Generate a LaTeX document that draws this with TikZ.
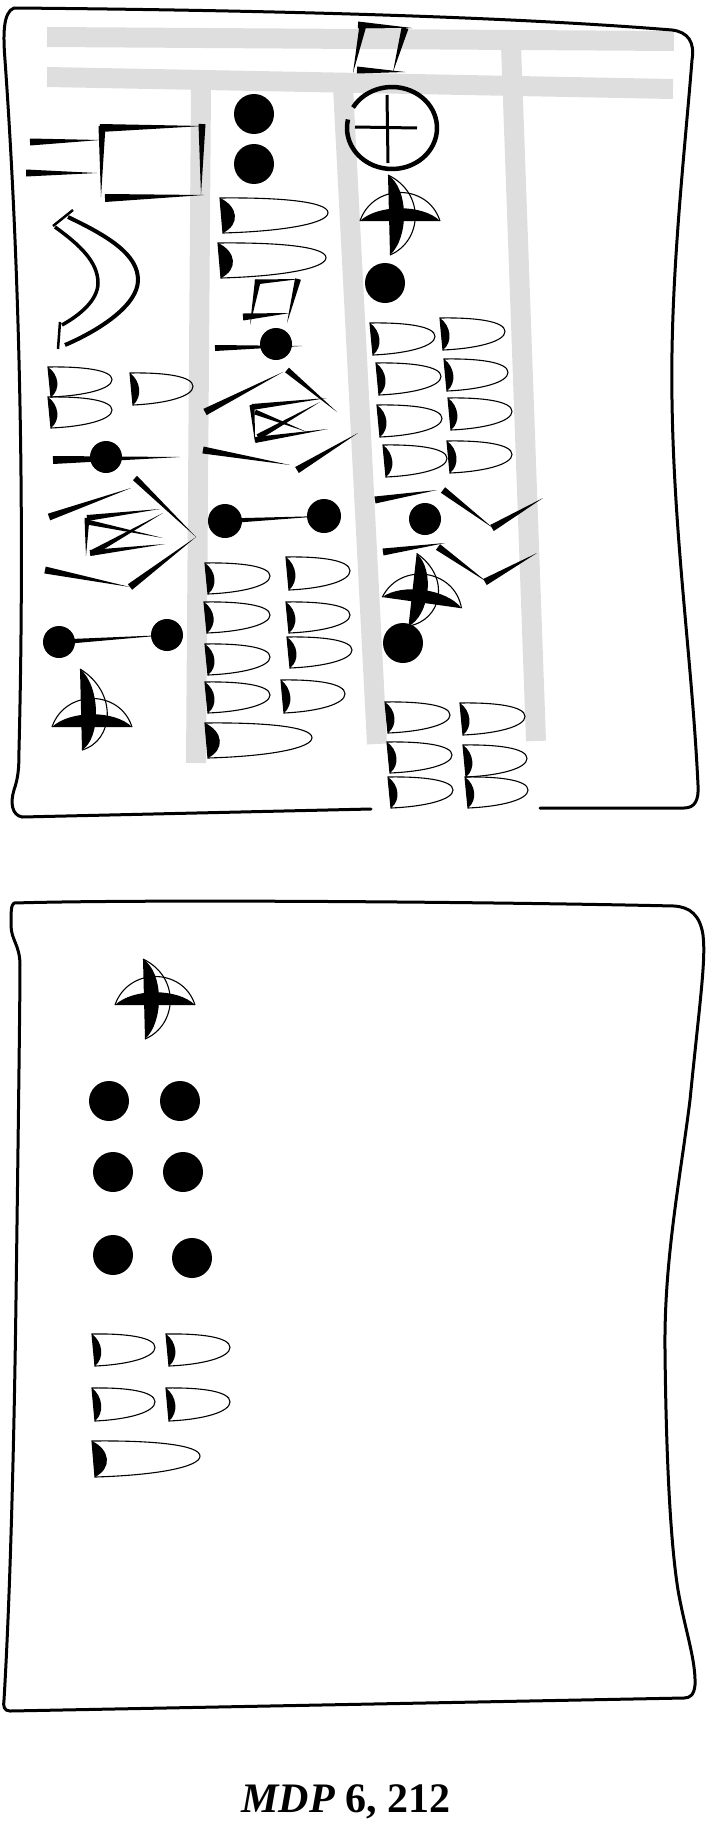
\documentclass[tikz,border=0pt]{standalone}
\usepackage{fontspec}
\setmainfont{Liberation Serif}
\usetikzlibrary{calc}
\definecolor{rulegrey}{gray}{0.87}

\newcommand{\numwedge}[4]{%
  \draw[thinline] (#1,#2) .. controls ({#1+0.55*#3},{#2-0.02*#4}) and ({#1+#3},{#2+0.1*#4}) .. ({#1+#3},{#2+0.42*#4})
        .. controls ({#1+#3},{#2+0.72*#4}) and ({#1+0.6*#3},{#2+0.95*#4}) .. ({#1+3},{#2+#4}) -- cycle;
  \fill (#1,#2) .. controls ({#1+0.17*#3},{#2+0.25*#4}) and ({#1+0.17*#3+2},{#2+0.75*#4}) .. ({#1+3},{#2+#4}) -- cycle;}
\newcommand{\tstroke}[3]{\fill ($#1!#3pt!90:#2$) -- ($#1!#3pt!-90:#2$) -- #2 -- cycle;}
\newcommand{\crosssign}[4]{%
  \fill (#1,{#2-#3}) .. controls ({#1+21},{#2-0.7*#3}) and ({#1+21},{#2+0.5*#4}) .. ({#1+2},{#2+#4}) -- cycle;
  \fill ({#1-28},#2) .. controls ({#1-10},{#2-17}) and ({#1+35},{#2-17}) .. ({#1+52},#2) -- cycle;
  \draw[thinline] ({#1-28},#2) .. controls ({#1-15},{#2-38}) and ({#1+40},{#2-38}) .. ({#1+52},#2);
  \draw[thinline] (#1,{#2-#3}) .. controls ({#1+38},{#2-0.6*#3}) and ({#1+34},{#2+0.6*#4}) .. ({#1+2},{#2+#4});}

\begin{document}
\begin{tikzpicture}[x=1pt,y=-1pt,
                    ruling/.style={rulegrey,line width=20pt},
                    tablet/.style={line width=3pt,line cap=round,line join=round},
                    thinline/.style={line width=1.1pt}]
  \useasboundingbox (0,0) rectangle (705,1828);

  \draw[ruling] (47,37) -- (674,41);
  \draw[ruling] (47,77) -- (673,89);
  \draw[ruling] (201,87) -- (196,763);
  \draw[ruling] (343,87) -- (377,744);
  \draw[ruling] (511,45) -- (536,741);

  \draw[tablet] (371,809) -- (22,817) .. controls (12,815) and (10,803) .. (14,790)
        .. controls (18,778) and (19,770) .. (19,750) .. controls (24,550) and (22,300) .. (5,60)
        .. controls (3,35) and (3,12) .. (14,8) .. controls (250,10) and (500,16) .. (672,30)
        .. controls (688,32) and (695,42) .. (692,60) .. controls (684,160) and (670,280) .. (672,400)
        .. controls (674,540) and (692,660) .. (698,785) .. controls (699,800) and (695,808) .. (684,808)
        -- (540,808);

  \tstroke{(30,142)}{(100,140)}{3.5}
  \tstroke{(26,173)}{(97,173)}{3.5}
  \tstroke{(102,126)}{(101,197)}{3.5}
  \tstroke{(100,128)}{(203,126)}{4}
  \tstroke{(202,124)}{(201,195)}{3.5}
  \tstroke{(105,198)}{(204,195)}{4}

  \draw[line width=4pt] (68,217) .. controls (110,237) and (138,255) .. (138,280) .. controls (138,305) and (100,330) .. (65,345);
  \draw[line width=3.5pt] (55,227) .. controls (80,245) and (98,262) .. (98,283) .. controls (98,300) and (80,315) .. (62,325);
  \draw[line width=2.5pt] (73,210) -- (53,226);
  \draw[line width=2.5pt] (60,322) -- (58,349);

  \numwedge{48}{367}{64}{30}
  \numwedge{48}{397}{64}{31}
  \numwedge{130}{373}{63}{32}

  \tstroke{(53,460)}{(180,457)}{4}
  \fill (106,457) circle [radius=16pt];

  \tstroke{(49,517)}{(131,488)}{3.5}
  \tstroke{(135,478)}{(196,537)}{3}
  \tstroke{(45,570)}{(130,587)}{3.5}
  \tstroke{(130,587)}{(196,537)}{3.5}
  \tstroke{(87,518)}{(86,556)}{2.5}
  \tstroke{(87,518)}{(160,509)}{3}
  \tstroke{(90,553)}{(165,544)}{3}
  \tstroke{(87,522)}{(163,538)}{2.5}
  \tstroke{(92,553)}{(163,513)}{3}

  \fill (59,642) circle [radius=16pt];
  \fill (167,635) circle [radius=16pt];
  \tstroke{(59,642)}{(167,635)}{2.5}

  \crosssign{80}{727}{58}{23}

  \fill (254,114) circle [radius=20pt];
  \fill (254,164) circle [radius=20pt];
  \numwedge{220}{198}{108}{35}
  \numwedge{218}{243}{108}{35}

  \tstroke{(258,280)}{(250,325)}{3}
  \tstroke{(255,282)}{(300,279)}{2.5}
  \tstroke{(298,279)}{(287,323)}{3}
  \tstroke{(243,317)}{(290,313)}{3.5}

  \tstroke{(215,348)}{(302,346)}{3}
  \fill (276,344) circle [radius=16pt];

  \tstroke{(205,412)}{(283,372)}{3.5}
  \tstroke{(287,370)}{(337,412)}{3}
  \tstroke{(252,405)}{(255,442)}{2.5}
  \tstroke{(252,407)}{(327,398)}{3}
  \tstroke{(255,440)}{(328,429)}{3}
  \tstroke{(255,412)}{(307,432)}{2.5}
  \tstroke{(258,437)}{(320,402)}{3}
  \tstroke{(203,450)}{(290,465)}{3.5}
  \tstroke{(297,470)}{(358,433)}{3.5}

  \fill (225,521) circle [radius=17pt];
  \fill (324,516) circle [radius=17pt];
  \tstroke{(225,521)}{(324,516)}{2.5}

  \numwedge{205}{563}{65}{31}
  \numwedge{204}{602}{66}{31}
  \numwedge{205}{644}{65}{31}
  \numwedge{205}{682}{65}{31}
  \numwedge{286}{557}{64}{33}
  \numwedge{286}{602}{64}{31}
  \numwedge{287}{637}{65}{31}
  \numwedge{281}{680}{64}{33}
  \numwedge{205}{723}{107}{35}

  \tstroke{(363,25)}{(353,73)}{3.5}
  \tstroke{(358,25)}{(412,28)}{3.5}
  \tstroke{(405,28)}{(393,72)}{3.5}
  \tstroke{(357,70)}{(405,72)}{3.5}

  \draw[line width=4.5pt] ($(392,128)+(150:45pt and 41pt)$) arc[start angle=150, end angle=-192, x radius=45pt, y radius=41pt];
  \draw[line width=3pt] (387,95) -- (388,163);
  \draw[line width=3pt] (355,127) -- (417,128);

  \crosssign{388}{221}{46}{34}
  \fill (385,283) circle [radius=20pt];

  \numwedge{370}{323}{65}{32}
  \numwedge{440}{318}{65}{32}
  \numwedge{376}{363}{65}{32}
  \numwedge{444}{359}{64}{32}
  \numwedge{377}{405}{65}{32}
  \numwedge{448}{398}{64}{32}
  \numwedge{383}{445}{64}{32}
  \numwedge{447}{441}{65}{32}

  \tstroke{(375,500)}{(437,490)}{3.5}
  \fill (425,519) circle [radius=16pt];
  \tstroke{(443,490)}{(493,528)}{3.5}
  \tstroke{(492,528)}{(543,498)}{3.5}
  \tstroke{(383,552)}{(445,543)}{3.5}
  \tstroke{(438,547)}{(487,582)}{3.5}
  \tstroke{(485,582)}{(537,553)}{3.5}

  \begin{scope}[rotate around={-8:(410,601)}]
    \crosssign{410}{601}{48}{25}
  \end{scope}
  \fill (403,643) circle [radius=20pt];

  \numwedge{385}{702}{65}{31}
  \numwedge{460}{703}{65}{32}
  \numwedge{387}{742}{65}{31}
  \numwedge{463}{745}{64}{32}
  \numwedge{388}{777}{65}{31}
  \numwedge{465}{777}{63}{31}

  \draw[tablet] (14,903) .. controls (150,899) and (500,902) .. (674,906)
        .. controls (690,907) and (700,915) .. (703,935) .. controls (706,960) and (700,1000) .. (690,1100)
        .. controls (680,1180) and (664,1260) .. (665,1350) .. controls (666,1450) and (670,1540) .. (678,1590)
        .. controls (685,1630) and (696,1660) .. (695,1685) .. controls (694,1695) and (690,1698) .. (684,1698)
        -- (10,1711) .. controls (4,1711) and (3,1706) .. (4,1700) .. controls (10,1600) and (14,1450) .. (16,1300)
        .. controls (18,1150) and (20,1000) .. (20,965) .. controls (20,945) and (11,940) .. (11,925)
        .. controls (11,912) and (11,905) .. (14,903) -- cycle;

  \crosssign{143}{1005}{46}{34}

  \fill (109,1101) circle [radius=20pt];
  \fill (180,1101) circle [radius=20pt];
  \fill (113,1172) circle [radius=20pt];
  \fill (183,1172) circle [radius=20pt];
  \fill (113,1255) circle [radius=20pt];
  \fill (192,1258) circle [radius=20pt];

  \numwedge{92}{1334}{63}{32}
  \numwedge{166}{1334}{64}{32}
  \numwedge{92}{1388}{63}{33}
  \numwedge{166}{1388}{64}{33}
  \numwedge{92}{1441}{108}{36}

  \node[anchor=base,font=\fontsize{42}{46}\selectfont\bfseries] (caption) at (346,1812) {\textit{MDP} 6, 212};
\end{tikzpicture}
\end{document}
